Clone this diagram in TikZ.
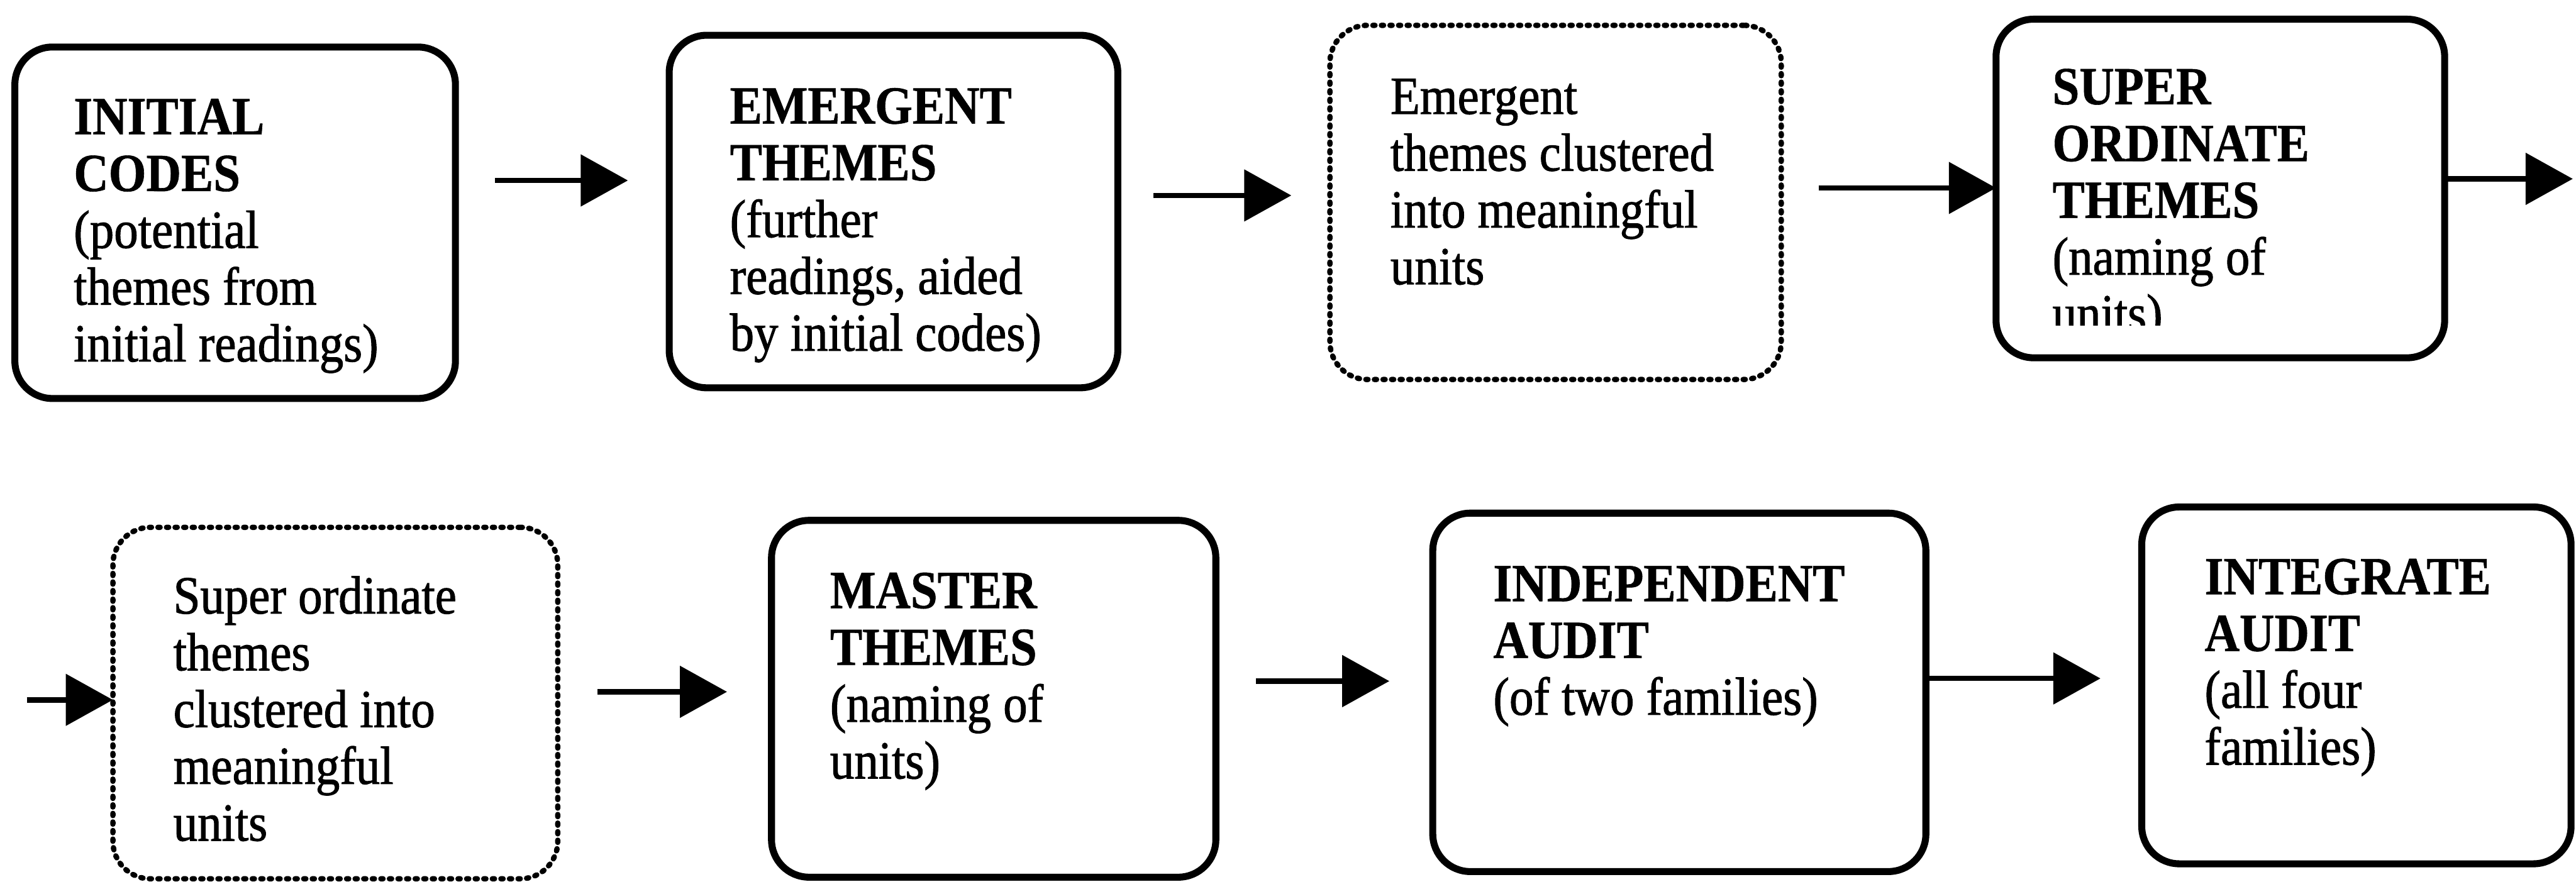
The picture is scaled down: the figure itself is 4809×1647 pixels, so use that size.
\documentclass[tikz,border=0pt]{standalone}
\usepackage{fontspec}
\setmainfont[FakeStretch=0.9, UprightFeatures={FakeBold=1.2}, BoldFeatures={FakeBold=0.7}]{Liberation Serif}
\usetikzlibrary{arrows.meta}
\begin{document}
\begin{tikzpicture}[x=0.01cm,y=-0.01cm,
  box/.style={draw, line width=0.13cm, rounded corners=0.7cm, fill=white, outer sep=0pt, inner sep=0pt},
  dotbox/.style={box, line width=0.1cm, line cap=round, dash pattern=on 0.04cm off 0.12cm},
  txt/.style={inner sep=0pt, anchor=north west, align=left, font=\fontsize{28.5}{30.16}\selectfont},
  arr/.style={line width=0.1cm, -{Triangle[length=0.88cm,width=0.95cm]}}]
\useasboundingbox[fill=white] (0,0) rectangle (4809,1647);

% boxes
\node[box,    minimum width=8.22cm, minimum height=6.56cm] (b1) at (439,416) {};
\node[box,    minimum width=8.37cm, minimum height=6.58cm] (b2) at (1668,395) {};
\node[dotbox, minimum width=8.42cm, minimum height=6.61cm] (b3) at (2904,378) {};
\node[box,    minimum width=8.37cm, minimum height=6.32cm] (b4) at (4145,352) {};
\node[dotbox, minimum width=8.30cm, minimum height=6.56cm] (b5) at (626,1313) {};
\node[box,    minimum width=8.29cm, minimum height=6.66cm] (b6) at (1855,1305) {};
\node[box,    minimum width=9.20cm, minimum height=6.69cm] (b7) at (3135,1293) {};
\node[box,    minimum width=8.01cm, minimum height=6.66cm] (b8) at (4399,1280) {};

% texts
\node[txt] (t1) at (137,180) {\rule{0pt}{0.7cm}\textbf{INITIAL}\\\textbf{CODES}\\(potential\\themes from\\initial readings)};
\node[txt] (t2) at (1362,160) {\rule{0pt}{0.7cm}\textbf{EMERGENT}\\\textbf{THEMES}\\(further\\readings, aided\\by initial codes)};
\node[txt] (t3) at (2595,142) {\rule{0pt}{0.7cm}Emergent\\themes clustered\\into meaningful\\units};
\begin{scope}
\clip (3700,0) rectangle (4600,608);
\node[txt] (t4) at (3831,124) {\rule{0pt}{0.7cm}\textbf{SUPER}\\\textbf{ORDINATE}\\\textbf{THEMES}\\(naming of\\units)};
\end{scope}
\node[txt] (t5) at (323,1075) {\rule{0pt}{0.7cm}Super ordinate\\themes\\clustered into\\meaningful\\units};
\node[txt] (t6) at (1549,1065) {\rule{0pt}{0.7cm}\textbf{MASTER}\\\textbf{THEMES}\\(naming of\\units)};
\node[txt] (t7) at (2787,1052) {\rule{0pt}{0.7cm}\textbf{INDEPENDENT}\\\textbf{AUDIT}\\(of two families)};
\node[txt] (t8) at (4115,1039) {\rule{0pt}{0.7cm}\textbf{INTEGRATE}\\\textbf{AUDIT}\\(all four\\families)};

% arrow levels
\coordinate (y1) at (0,337);
\coordinate (y2) at (0,365);
\coordinate (y3) at (0,351);
\coordinate (e4) at (4803,334);
\coordinate (s5) at (50,1307);
\coordinate (y6) at (0,1292);
\coordinate (y7) at (0,1272);
\coordinate (y8) at (0,1267);

% connectors
\draw[arr, shorten <=0.74cm, shorten >=0.77cm] (b1.east |- y1) -- (b2.west |- y1);
\draw[arr, shorten <=0.67cm, shorten >=0.72cm] (b2.east |- y2) -- (b3.west |- y2);
\draw[arr, shorten <=0.70cm] (b3.east |- y3) -- (b4.west |- y3);
\draw[arr] (b4.east |- e4) -- (e4);
\draw[arr] (s5) -- (b5.west |- s5);
\draw[arr, shorten <=0.74cm, shorten >=0.83cm] (b5.east |- y6) -- (b6.west |- y6);
\draw[arr, shorten <=0.75cm, shorten >=0.81cm] (b6.east |- y7) -- (b7.west |- y7);
\draw[arr, shorten >=0.77cm] (b7.east |- y8) -- (b8.west |- y8);
\end{tikzpicture}
\end{document}
